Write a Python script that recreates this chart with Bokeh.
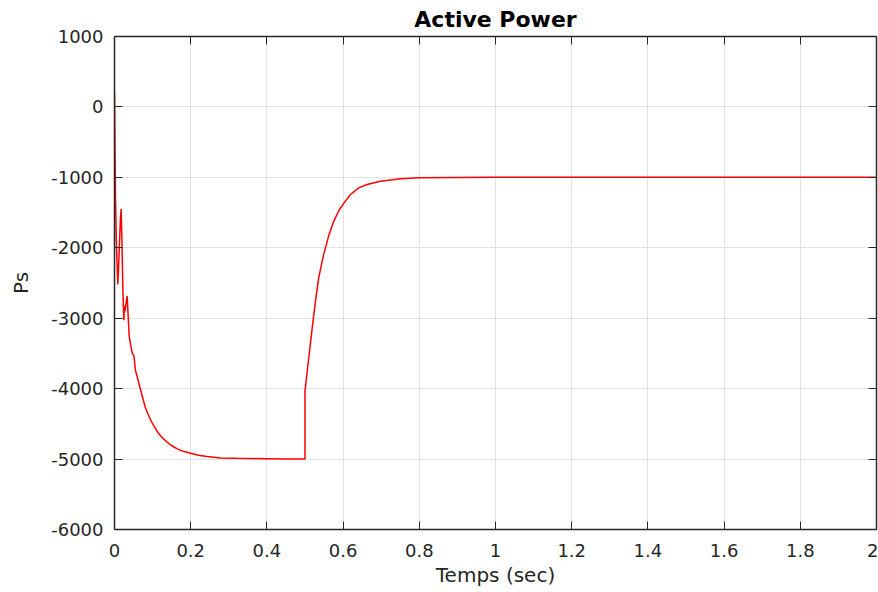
from bokeh.plotting import figure
from bokeh.models import Range1d, LinearAxis, FixedTicker
from bokeh.embed import file_html
from bokeh.resources import INLINE

# Time (s) and active power (W)
time_s = [0.0, 0.0008, 0.0026, 0.0052, 0.0087, 0.012, 0.0155, 0.0175, 0.0195, 0.022,
          0.0245, 0.0262, 0.0275, 0.0332, 0.0385, 0.043, 0.047, 0.051, 0.055, 0.061,
          0.068, 0.075, 0.081, 0.087, 0.092, 0.097, 0.103, 0.109, 0.115, 0.122,
          0.129, 0.137, 0.145, 0.155, 0.165, 0.18, 0.2,
          0.22, 0.243, 0.278, 0.32, 0.357, 0.4, 0.45, 0.5,
          0.5, 0.51, 0.519, 0.5276, 0.536, 0.549, 0.562, 0.5756, 0.589, 0.6026,
          0.6194, 0.641, 0.663, 0.698, 0.751, 0.8, 0.9, 1.0, 2.0]
power_ps = [200, -350, -1290, -2000, -2520, -2100, -1600, -1450, -1900, -2600,
            -3030, -2826, -2900, -2684, -3251, -3400, -3506, -3534, -3740, -3860,
            -4006, -4150, -4267, -4350, -4410, -4470, -4526, -4580, -4630, -4675,
            -4715, -4755, -4790, -4825, -4856, -4890, -4918,
            -4945, -4965, -4984, -4990, -4993, -4996, -4999, -5000,
            -4030, -3558, -3133, -2755, -2424, -2093, -1834, -1621, -1470, -1362,
            -1243, -1149, -1101, -1054, -1021, -1006, -1001, -1000, -1000]

x_ticks = [0, 0.2, 0.4, 0.6, 0.8, 1.0, 1.2, 1.4, 1.6, 1.8, 2.0]
x_tick_labels = ["0", "0.2", "0.4", "0.6", "0.8", "1", "1.2", "1.4", "1.6", "1.8", "2"]
y_ticks = [1000, 0, -1000, -2000, -3000, -4000, -5000, -6000]
y_tick_labels = ["1000", "0", "-1000", "-2000", "-3000", "-4000", "-5000", "-6000"]

FONT = "DejaVu Sans"
AX = "#262626"

p = figure(width=878, height=592, x_range=Range1d(0, 2), y_range=Range1d(-6000, 1000),
           output_backend="svg", toolbar_location=None,
           min_border_left=114, min_border_right=2, min_border_top=35, min_border_bottom=63)
p.outline_line_color = None
p.background_fill_color = "white"
p.border_fill_color = "white"

p.title.text = "Active Power"
p.title.text_font = FONT
p.title.text_font_style = "bold"
p.title.text_font_size = "22px"
p.title.align = "center"
p.title.text_color = "black"
p.title.standoff = 9

xt = FixedTicker(ticks=x_ticks, minor_ticks=[])
yt = FixedTicker(ticks=y_ticks, minor_ticks=[])

def style(ax, ticker, labels, show):
    ax.ticker = ticker
    ax.axis_line_color = AX
    ax.axis_line_width = 1.5
    ax.major_tick_line_color = AX
    ax.major_tick_in = 8
    ax.major_tick_out = 0
    ax.minor_tick_line_color = None
    ax.major_label_text_font = FONT
    ax.major_label_text_color = AX
    if show:
        ax.major_label_text_font_size = "18px"
        ax.major_label_overrides = {t: l for t, l in zip(ticker.ticks, labels)}
    else:
        ax.major_label_text_font_size = "1px"
        ax.major_label_overrides = {t: "" for t in ticker.ticks}
        ax.major_label_standoff = 0

xa = p.xaxis[0]
ya = p.yaxis[0]
style(xa, xt, x_tick_labels, True)
style(ya, yt, y_tick_labels, True)
xa.major_label_standoff = 14
ya.major_label_standoff = 11
xa.axis_label = "Temps (sec)"
ya.axis_label = "Ps"
for a in (xa, ya):
    a.axis_label_text_font = FONT
    a.axis_label_text_font_style = "normal"
    a.axis_label_text_font_size = "20px"
    a.axis_label_text_color = AX
xa.axis_label_standoff = 3
ya.axis_label_standoff = 15

top = LinearAxis()
right = LinearAxis()
style(top, xt, x_tick_labels, False)
style(right, yt, y_tick_labels, False)
p.add_layout(top, "above")
p.add_layout(right, "right")

p.xgrid.ticker = xt
p.ygrid.ticker = yt
for g in (p.xgrid, p.ygrid):
    g.grid_line_color = "#e2e2e2"
    g.grid_line_width = 1

p.line(time_s, power_ps, line_color="red", line_width=1.5)

open("out.html", "w").write(file_html(p, INLINE))
